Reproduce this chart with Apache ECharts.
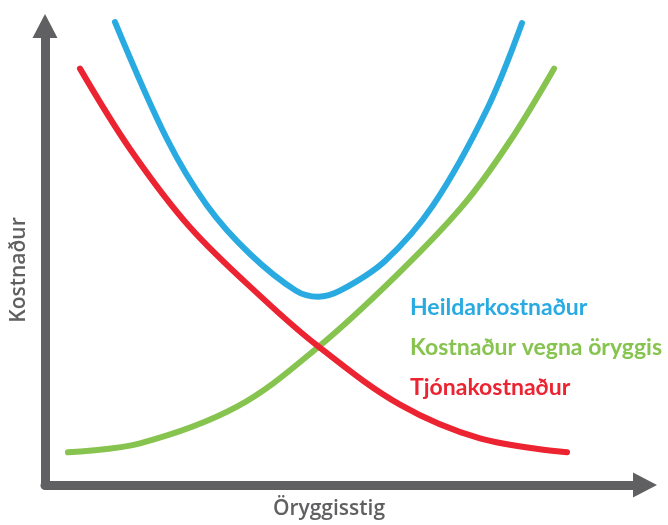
<!DOCTYPE html>
<html lang="is">
<head>
    <meta charset="UTF-8">
    <script src="https://cdn.jsdelivr.net/npm/echarts@6/dist/echarts.min.js"></script>
    <title>Kostnaður og öryggisstig</title>
    <style>
        html, body { margin: 0; padding: 0; background: #fff; }
        #chart { width: 668px; height: 525px; }
    </style>
</head>
<body>
<div id="chart"></div>
<script>
    // punktar lesnir af myndinni: [öryggisstig, kostnaður]
    let seriesNames = ['Heildarkostnaður', 'Kostnaður vegna öryggis', 'Tjónakostnaður'];
    let seriesColors = ['#29abe2', '#86c44f', '#ec2330'];

    let heildar = [
        [70, 467], [122, 349], [162, 282], [205, 233], [251, 196], [273, 190],
        [295, 196], [340, 226], [388, 282], [442, 379], [477, 466]
    ];
    let oryggi = [
        [23, 33], [95, 42], [192, 79], [273, 139], [352, 212],
        [418, 282], [465, 347], [509, 420]
    ];
    let tjon = [
        [35, 420], [85, 339], [145, 260], [217, 189], [273, 140],
        [355, 81], [435, 47], [522, 33]
    ];

    let axisColor = '#606062';
    let myChart = echarts.init(document.getElementById('chart'));

    function lineSeries(name, data, color){
        return {
            name: name,
            type: 'line',
            data: data,
            smooth: 0.35,
            showSymbol: false,
            clip: false,
            lineStyle: { color: color, width: 6, cap: 'round' },
            itemStyle: { color: color }
        };
    }

    let option = {
        animation: false,
        grid: { left: 45, right: 23, top: 26, bottom: 36 },
        legend: {
            orient: 'vertical',
            left: 399,
            top: 291,
            selectedMode: false,
            itemWidth: 0,
            itemHeight: 0,
            itemGap: 16,
            textStyle: { fontFamily: 'Lato', fontWeight: 'bold', fontSize: 23, lineHeight: 24 },
            data: seriesNames.map(function(n, i){
                return { name: n, textStyle: { color: seriesColors[i] } };
            })
        },
        xAxis: {
            type: 'value',
            min: 0,
            max: 600,
            name: 'Öryggisstig',
            nameLocation: 'middle',
            nameGap: 14,
            nameTextStyle: {
                color: axisColor, fontFamily: 'Open Sans', fontWeight: 600, fontSize: 21,
                padding: [0, 32, 0, 0]
            },
            axisLine: {
                lineStyle: { color: axisColor, width: 9, cap: 'round' },
                symbol: ['none', 'triangle'],
                symbolSize: [25, 24]
            },
            axisTick: { show: false },
            axisLabel: { show: false },
            splitLine: { show: false }
        },
        yAxis: {
            type: 'value',
            min: 0,
            max: 463,
            name: 'Kostnaður',
            nameLocation: 'middle',
            nameGap: 15,
            nameTextStyle: {
                color: axisColor, fontFamily: 'Open Sans', fontWeight: 600, fontSize: 21,
                padding: [0, 29, 0, 0]
            },
            axisLine: {
                show: true,
                lineStyle: { color: axisColor, width: 9, cap: 'round' },
                symbol: ['none', 'triangle'],
                symbolSize: [25, 24]
            },
            axisTick: { show: false },
            axisLabel: { show: false },
            splitLine: { show: false }
        },
        series: [
            lineSeries(seriesNames[0], heildar, seriesColors[0]),
            lineSeries(seriesNames[1], oryggi, seriesColors[1]),
            lineSeries(seriesNames[2], tjon, seriesColors[2])
        ]
    };
    myChart.setOption(option);
</script>
</body>
</html>
